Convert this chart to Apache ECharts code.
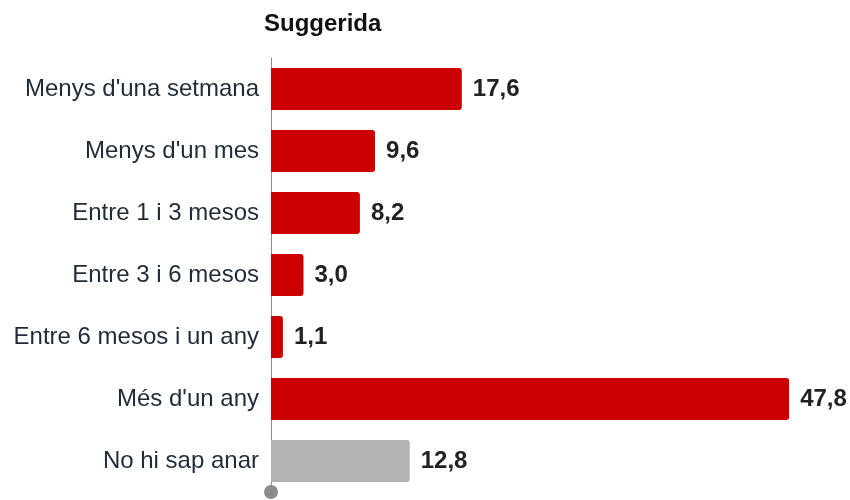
<!DOCTYPE html>
<html>
<head>
<meta charset="utf-8">
<style>
html, body { margin: 0; padding: 0; background: #fff; }
#chart { width: 850px; height: 500px; }
</style>
</head>
<body>
<div id="chart"></div>
<script src="https://cdn.jsdelivr.net/npm/echarts@6/dist/echarts.min.js"></script>
<script>
var categories = ["Menys d'una setmana", "Menys d'un mes", "Entre 1 i 3 mesos", "Entre 3 i 6 mesos", "Entre 6 mesos i un any", "Més d'un any", "No hi sap anar"];
var values = [17.6, 9.6, 8.2, 3.0, 1.1, 47.8, 12.8];
var barColors = ['#cc0000', '#cc0000', '#cc0000', '#cc0000', '#cc0000', '#cc0000', '#b3b3b3'];

var chart = echarts.init(document.getElementById('chart'));
var option = {
    animation: false,
    title: {
        text: 'Suggerida',
        left: 259,
        top: 7,
        textStyle: { fontFamily: 'Liberation Sans', fontSize: 24, fontWeight: 'bold', color: '#111' }
    },
    grid: { left: 271, right: 37, top: 58, bottom: 8 },
    xAxis: {
        type: 'value',
        min: 0,
        max: 50,
        show: false
    },
    yAxis: {
        type: 'category',
        inverse: true,
        data: categories,
        axisTick: { show: false },
        axisLine: {
            show: true,
            symbol: ['circle', 'none'],
            symbolSize: [14, 14],
            lineStyle: { color: '#8c8c8c', width: 1 }
        },
        axisLabel: {
            margin: 12,
            fontFamily: 'Liberation Sans',
            fontSize: 24,
            color: '#1f2b36'
        }
    },
    series: [{
        type: 'bar',
        barWidth: 42,
        data: values.map(function (v, i) {
            return { value: v, itemStyle: { color: barColors[i] } };
        }),
        itemStyle: { borderRadius: [0, 3, 3, 0] },
        label: {
            show: true,
            position: 'right',
            distance: 11,
            fontFamily: 'Liberation Sans',
            fontSize: 24,
            fontWeight: 'bold',
            color: '#222',
            formatter: function (p) { return p.value.toFixed(1).replace('.', ','); }
        }
    }]
};
chart.setOption(option);
</script>
</body>
</html>
